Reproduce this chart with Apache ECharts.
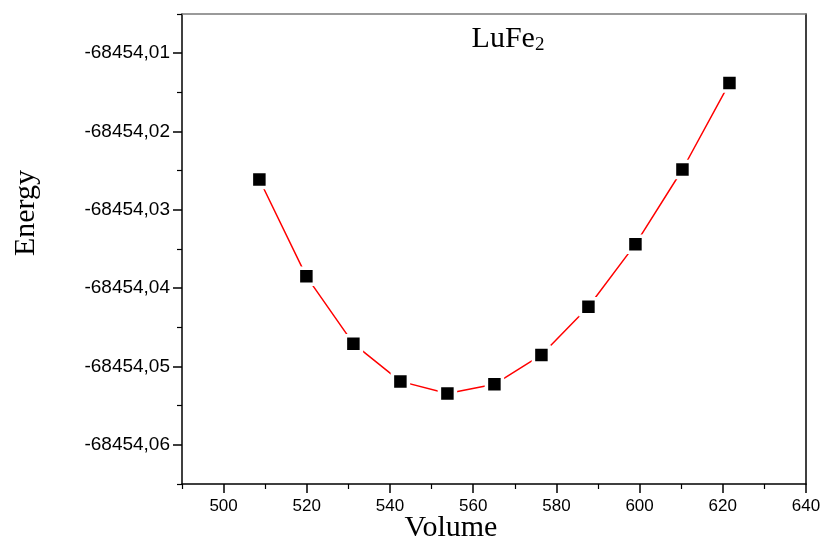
<!DOCTYPE html>
<html>
<head>
<meta charset="utf-8">
<script src="https://cdn.jsdelivr.net/npm/echarts@6/dist/echarts.min.js"></script>
<style>
  html, body { margin: 0; padding: 0; background: #fff; }
  #chart { width: 826px; height: 545px; }
</style>
</head>
<body>
<div id="chart"></div>
<script>
// values
const volume = [508.6, 519.9, 531.2, 542.5, 553.8, 565.1, 576.4, 587.7, 599.0, 610.3, 621.6]
const energy = [
  -68454.02613, -68454.03849, -68454.04708, -68454.05190, -68454.05344, -68454.05227,
  -68454.04853, -68454.04237, -68454.03438, -68454.02485, -68454.01382
]
const xMajorTicks = [500, 520, 540, 560, 580, 600, 620, 640]
const xMinorTicks = [490, 510, 530, 550, 570, 590, 610, 630]
const yMajorTicks = [-68454.06, -68454.05, -68454.04, -68454.03, -68454.02, -68454.01]
const yMinorTicks = [-68454.065, -68454.055, -68454.045, -68454.035, -68454.025, -68454.015, -68454.005]

const chart = echarts.init(document.getElementById('chart'))

const grid = { left: 182, top: 14, width: 624, height: 470 }
const xRange = { min: 490, max: 640 }
const yRange = { min: -68454.065, max: -68454.005 }
const sans = 'Liberation Sans'
const serif = 'Liberation Serif'

const option = {
  animation: false,
  backgroundColor: '#fff',
  title: {
    text: '{a|LuFe}{b|2}',
    left: 503,
    top: 19,
    textAlign: 'center',
    textStyle: {
      fontWeight: 'normal',
      rich: {
        a: { fontFamily: serif, fontSize: 30, fontWeight: 'normal', color: '#000' },
        b: { fontFamily: serif, fontSize: 19, fontWeight: 'normal', color: '#000', padding: [12, 0, 0, 0] }
      }
    }
  },
  grid: grid,
  xAxis: [
    {
      type: 'value', position: 'bottom', ...xRange,
      axisLine: { lineStyle: { color: '#000', width: 1.5 } },
      axisTick: { customValues: xMajorTicks, length: 9, lineStyle: { color: '#000', width: 1.5 } },
      axisLabel: { customValues: xMajorTicks, fontFamily: sans, fontSize: 17, color: '#000', margin: 14 },
      splitLine: { show: false }
    },
    {
      type: 'value', position: 'bottom', ...xRange,
      axisLine: { show: false },
      axisTick: { customValues: xMinorTicks, length: 5, lineStyle: { color: '#000', width: 1.2 } },
      axisLabel: { show: false },
      splitLine: { show: false }
    },
    {
      type: 'value', position: 'top', ...xRange,
      axisLine: { lineStyle: { color: '#7a7a7a', width: 1.5 } },
      axisTick: { show: false },
      axisLabel: { show: false },
      splitLine: { show: false }
    }
  ],
  yAxis: [
    {
      type: 'value', position: 'left', ...yRange,
      axisLine: { lineStyle: { color: '#000', width: 1.5 } },
      axisTick: { customValues: yMajorTicks, length: 9, lineStyle: { color: '#000', width: 1.5 } },
      axisLabel: {
        customValues: yMajorTicks, fontFamily: sans, fontSize: 19, color: '#000', margin: 12,
        formatter: (v) => v.toFixed(2).replace('.', ',')
      },
      splitLine: { show: false }
    },
    {
      type: 'value', position: 'left', ...yRange,
      axisLine: { show: false },
      axisTick: { customValues: yMinorTicks, length: 5, lineStyle: { color: '#000', width: 1.2 } },
      axisLabel: { show: false },
      splitLine: { show: false }
    },
    {
      type: 'value', position: 'right', ...yRange,
      axisLine: { lineStyle: { color: '#000', width: 1.5 } },
      axisTick: { show: false },
      axisLabel: { show: false },
      splitLine: { show: false }
    }
  ],
  graphic: [
    {
      type: 'text', x: 26, y: 213, rotation: Math.PI / 2,
      style: { text: 'Energy', fontFamily: serif, fontSize: 30, fill: '#000', align: 'center', verticalAlign: 'middle' }
    },
    {
      type: 'text', x: 451, y: 528,
      style: { text: 'Volume', fontFamily: serif, fontSize: 30, fill: '#000', align: 'center', verticalAlign: 'middle' }
    }
  ],
  series: [
    {
      type: 'line',
      xAxisIndex: 0,
      yAxisIndex: 0,
      data: volume.map((v, i) => [v, energy[i]]),
      symbol: 'rect',
      symbolSize: 16,
      showAllSymbol: true,
      lineStyle: { color: '#ff0000', width: 1.5 },
      itemStyle: { color: '#000', borderColor: '#fff', borderWidth: 3.5 },
      emphasis: { disabled: true }
    }
  ]
}
chart.setOption(option)
</script>
</body>
</html>
